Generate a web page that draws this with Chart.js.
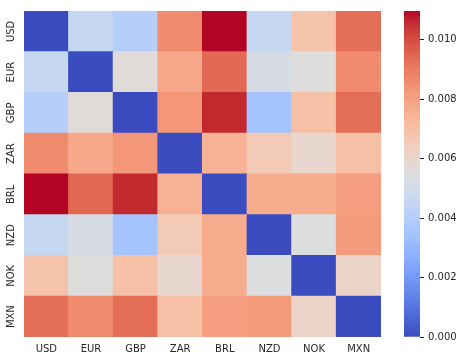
<!DOCTYPE html>
<html>
<head>
<meta charset="utf-8">
<script src="https://cdn.jsdelivr.net/npm/chart.js@4/dist/chart.umd.min.js"></script>
<style>
  body { margin:0; background:#fff; }
  #heat { position:absolute; left:0; top:0; }
  #cbar { position:absolute; left:395px; top:0; }
</style>
</head>
<body>
<canvas id="heat" width="395" height="360"></canvas>
<canvas id="cbar" width="64" height="360"></canvas>
<script>
// currencies, same order for rows (top to bottom) and columns
var currencies = ['USD', 'EUR', 'GBP', 'ZAR', 'BRL', 'NZD', 'NOK', 'MXN'];

// one array per row of the heatmap
var rowUSD = [0, 0.0046, 0.0040, 0.0086, 0.01096, 0.0046, 0.0069, 0.0093];
var rowEUR = [0.0046, 0, 0.0056, 0.0078, 0.0094, 0.0052, 0.0055, 0.0086];
var rowGBP = [0.0040, 0.0056, 0, 0.0083, 0.0106, 0.0035, 0.0070, 0.0093];
var rowZAR = [0.0086, 0.0078, 0.0083, 0, 0.0075, 0.0066, 0.0059, 0.0070];
var rowBRL = [0.01096, 0.0094, 0.0106, 0.0075, 0, 0.0077, 0.0077, 0.0081];
var rowNZD = [0.0046, 0.0052, 0.0035, 0.0066, 0.0077, 0, 0.0054, 0.0082];
var rowNOK = [0.0069, 0.0055, 0.0070, 0.0059, 0.0077, 0.0054, 0, 0.0061];
var rowMXN = [0.0093, 0.0086, 0.0093, 0.0070, 0.0081, 0.0082, 0.0061, 0];
var rows = [rowUSD, rowEUR, rowGBP, rowZAR, rowBRL, rowNZD, rowNOK, rowMXN];

var colorbarTicks = [0, 0.002, 0.004, 0.006, 0.008, 0.010];

var vmin = 0;
var vmax = Math.max.apply(null, rows.map(r => Math.max.apply(null, r)));

// matplotlib coolwarm, 33 stops
var coolwarm = [
  [59,76,192],[68,90,204],[77,104,215],[87,117,225],[98,130,234],[108,142,241],
  [119,154,247],[130,165,251],[141,176,254],[152,185,255],[163,194,255],[174,201,253],
  [184,208,249],[194,213,244],[204,217,238],[213,219,230],[221,221,221],[229,216,209],
  [236,211,197],[241,204,185],[245,196,173],[247,187,160],[247,177,148],[247,166,135],
  [244,154,123],[241,141,111],[236,127,99],[229,112,88],[222,96,77],[213,80,66],
  [203,62,56],[192,40,47],[180,4,38]
];

function cmap(v){
  var t = (v - vmin) / (vmax - vmin);
  t = Math.max(0, Math.min(1, t));
  var p = t * (coolwarm.length - 1);
  var i = Math.min(Math.floor(p), coolwarm.length - 2);
  var f = p - i;
  var a = coolwarm[i], b = coolwarm[i+1];
  var c = [0,1,2].map(k => Math.round(a[k] + (b[k]-a[k]) * f));
  return 'rgb(' + c.join(',') + ')';
}

var textColor = '#262626';
var font = { family: 'DejaVu Sans', size: 10 };

// stacked bars, bottom dataset = last row
var datasets = [];
for (var r = rows.length - 1; r >= 0; r--) {
  datasets.push({
    label: currencies[r],
    data: rows[r].map(() => 1),
    backgroundColor: rows[r].map(cmap),
    borderWidth: 0,
    inflateAmount: 0.5,
    barPercentage: 1,
    categoryPercentage: 1
  });
}

// vertical row labels on the left
var rowLabels = {
  id: 'rowLabels',
  afterDraw(chart) {
    var ctx = chart.ctx, y = chart.scales.y;
    ctx.save();
    ctx.fillStyle = textColor;
    ctx.font = font.size + 'px ' + font.family;
    ctx.textAlign = 'center';
    ctx.textBaseline = 'middle';
    currencies.forEach(function(name, i){
      var py = y.getPixelForValue(rows.length - i - 0.5);
      ctx.save();
      ctx.translate(11.5, py);
      ctx.rotate(-Math.PI/2);
      ctx.fillText(name, 0, 0);
      ctx.restore();
    });
    ctx.restore();
  }
};

new Chart(document.getElementById('heat'), {
  type: 'bar',
  data: { labels: currencies, datasets: datasets },
  options: {
    responsive: false,
    animation: false,
    layout: { padding: { left: 0, top: 11, right: 14, bottom: 0 } },
    plugins: { legend: { display: false }, tooltip: { enabled: false } },
    scales: {
      x: {
        stacked: true,
        grid: { display: false, drawTicks: false },
        border: { display: false },
        ticks: { color: textColor, font: font, padding: 6, maxRotation: 0 },
        afterFit: function(s){ s.height = 23; }
      },
      y: {
        stacked: true,
        min: 0, max: rows.length,
        grid: { display: false, drawTicks: false },
        border: { display: false },
        ticks: { display: false },
        afterFit: function(s){ s.width = 24; }
      }
    }
  },
  plugins: [rowLabels]
});

// colorbar
new Chart(document.getElementById('cbar'), {
  type: 'bar',
  data: {
    labels: [''],
    datasets: [{
      data: [vmax],
      borderWidth: 0,
      barPercentage: 1,
      categoryPercentage: 1,
      backgroundColor: function(c){
        var area = c.chart.chartArea;
        if (!area) return null;
        var g = c.chart.ctx.createLinearGradient(0, area.bottom, 0, area.top);
        coolwarm.forEach(function(rgb, i){
          g.addColorStop(i / (coolwarm.length - 1), 'rgb(' + rgb.join(',') + ')');
        });
        return g;
      }
    }]
  },
  options: {
    responsive: false,
    animation: false,
    layout: { padding: { left: 9, top: 11, right: 0, bottom: 23 } },
    plugins: { legend: { display: false }, tooltip: { enabled: false } },
    scales: {
      x: { display: false },
      y: {
        position: 'right',
        min: vmin, max: vmax,
        grid: { drawOnChartArea: false, drawTicks: true, tickLength: 4, color: textColor },
        border: { display: false },
        ticks: {
          color: textColor, font: font, padding: 4,
          callback: function(v){ return v.toFixed(3); }
        },
        afterBuildTicks: function(s){ s.ticks = colorbarTicks.map(v => ({ value: v })); },
        afterFit: function(s){ s.width = 39; }
      }
    }
  }
});
</script>
</body>
</html>
